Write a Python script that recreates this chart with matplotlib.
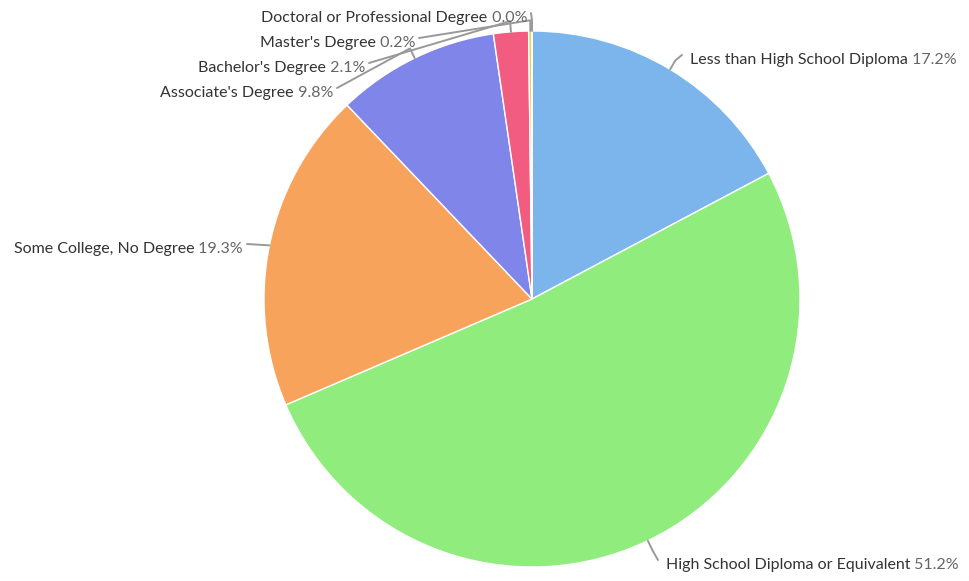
import numpy as np
import matplotlib.pyplot as plt

plt.rcParams['font.family'] = ['Lato', 'DejaVu Sans']

categories = ['Less than High School Diploma', 'High School Diploma or Equivalent',
              'Some College, No Degree', "Associate's Degree", "Bachelor's Degree",
              "Master's Degree", 'Doctoral or Professional Degree']
shares = [17.2, 51.2, 19.3, 9.8, 2.1, 0.2, 0.0]
colors = ['#7cb5ec', '#90ed7d', '#f7a35c', '#8085e9', '#f15c80', '#e4d354', '#2b908f']

# label anchors in pixels (x, y, side): side 'l' = text starts at x, 'r' = text ends at x
label_pos = [(690, 60, 'l'), (666, 565, 'l'), (243, 249, 'r'), (333, 93, 'r'),
             (365, 68, 'r'), (415, 43, 'r'), (527, 18, 'r')]

W, H = 969, 581
cx, cy, R = 532, 299, 268
FS = 11.5

fig = plt.figure(figsize=(W / 100, H / 100), dpi=100)
ax = fig.add_axes([(cx - R) / W, (H - cy - R) / H, 2 * R / W, 2 * R / H])

wedges, _ = ax.pie(shares, colors=colors, startangle=90, counterclock=False, radius=1,
                   wedgeprops=dict(edgecolor='white', linewidth=1))
ax.set_xlim(-1, 1)
ax.set_ylim(-1, 1)
ax.axis('off')


def px2data(x, y):
    return (x - cx) / R, (cy - y) / R


fig.canvas.draw()
renderer = fig.canvas.get_renderer()
total = sum(shares)
cum = 0
for name, val, (lx, ly, side) in zip(categories, shares, label_pos):
    mid = np.deg2rad(90 - (cum + val / 2) / total * 360)
    cum += val
    ex, ey = np.cos(mid), np.sin(mid)
    bx, by = 1.04 * ex, 1.04 * ey
    tx, ty = px2data(lx + (-8 if side == 'l' else 4), ly - 5)
    if name.startswith('Some'):
        bx, by = 1.0 * ex, 1.0 * ey
    ax.plot([ex, bx, tx], [ey, by, ty], color='#999999', lw=1.4, clip_on=False,
            solid_capstyle='round')

    x0, y0 = px2data(lx, ly)
    pct = f' {val:.1f}%'
    if side == 'l':
        t = ax.text(x0, y0, name, ha='left', va='center', fontsize=FS, color='#333333')
        bb = t.get_window_extent(renderer)
        xe = ax.transData.inverted().transform((bb.x1, 0))[0]
        ax.text(xe, y0, pct, ha='left', va='center', fontsize=FS, color='#666666')
    else:
        t = ax.text(x0, y0, pct, ha='right', va='center', fontsize=FS, color='#666666')
        bb = t.get_window_extent(renderer)
        xs = ax.transData.inverted().transform((bb.x0, 0))[0]
        ax.text(xs, y0, name, ha='right', va='center', fontsize=FS, color='#333333')

fig.savefig('out.png', dpi=100)
